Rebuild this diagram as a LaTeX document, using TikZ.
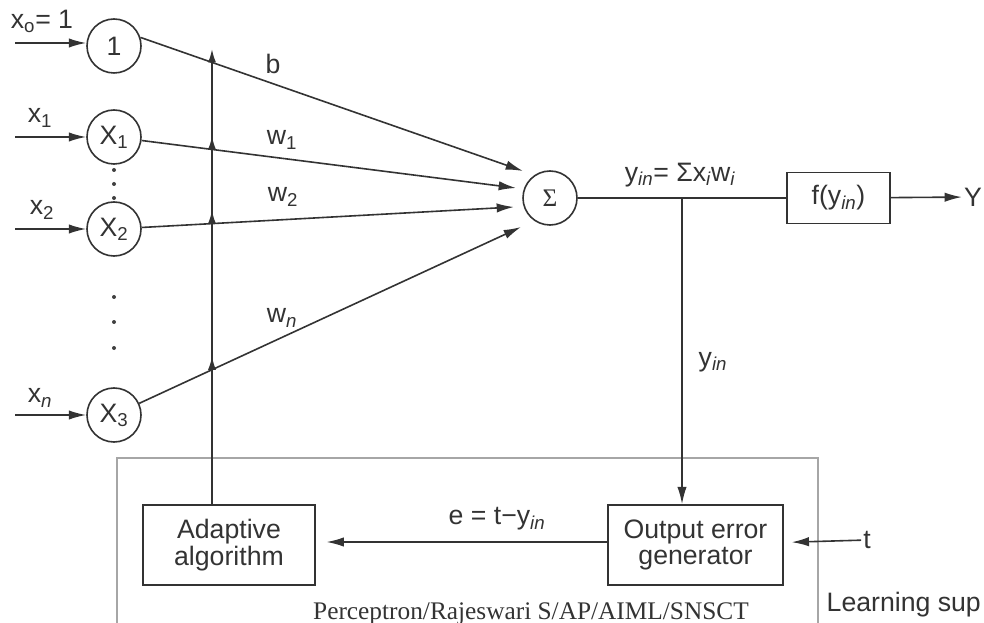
\documentclass[tikz,border=0pt]{standalone}
\usepackage{fontspec}
\setmainfont{Liberation Sans}
\newfontfamily\timesfont{Liberation Serif}
\usetikzlibrary{arrows.meta}
\begin{document}
\begin{tikzpicture}[x=0.75pt,y=-0.75pt,
  line width=1.2pt,
  color=black!80,
  arr/.style={-{Latex[length=13pt,width=7pt]}},
  uparr/.style={-{Latex[length=10pt,width=6pt]}, shorten >=-10pt},
  neuron/.style={circle,draw,minimum size=40.5pt,inner sep=0pt,font=\fontsize{20}{22}\selectfont},
  blk/.style={draw,rectangle,align=center,font=\fontsize{20}{20}\selectfont},
  lbl/.style={font=\fontsize{20}{22}\selectfont, inner sep=1pt},
  dot/.style={fill=black!75, draw=none}]
\useasboundingbox (0,0) rectangle (984,623);
\clip (0,0) rectangle (984,623);

% learning frame
\draw[black!35, line width=1pt] (117,458) rectangle (818,640);

% input neurons
\node[neuron] (n0) at (114,46) {1};
\node[neuron] (n1) at (114,137) {X\textsubscript{1}};
\node[neuron] (n2) at (114,229) {X\textsubscript{2}};
\node[neuron] (n3) at (114,415) {X\textsubscript{3}};
\node[neuron, font=\timesfont\fontsize{19}{20}\selectfont] (sig) at (550,198) {Σ};

% inputs
\coordinate (i0) at (15,43);
\coordinate (i1) at (15,137);
\coordinate (i2) at (15,229);
\coordinate (i3) at (15,415);
\draw[arr] (i0) -- (i0 -| n0.west);
\draw[arr] (i1) -- (n1);
\draw[arr] (i2) -- (n2);
\draw[arr] (i3) -- (n3);
\node[lbl] (lx0) at (42,21) {x\textsubscript{o}= 1};
\node[lbl] (lx1) at (40,118) {x\textsubscript{1}};
\node[lbl] (lx2) at (42,210) {x\textsubscript{2}};
\node[lbl] (lxn) at (40,398) {x\textsubscript{\itshape n}};

% dots
\fill[dot] (114,170) circle (1.5pt);
\fill[dot] (114,184) circle (1.5pt);
\fill[dot] (114,198) circle (1.5pt);
\fill[dot] (114,297) circle (1.5pt);
\fill[dot] (114,322) circle (1.5pt);
\fill[dot] (114,348) circle (1.5pt);

% weighted connections
\coordinate (sb) at (n0.18);
\coordinate (tb) at (523,171);
\coordinate (t1) at (516,188);
\coordinate (t2) at (514,207);
\coordinate (tn) at (521,227);
\draw[arr] (sb) -- (tb);
\draw[arr] (n1) -- (t1);
\draw[arr] (n2) -- (t2);
\draw[arr] (n3) -- (tn);
\node[lbl] (lb) at (273,64) {b};
\node[lbl] (lw1) at (282,140) {w\textsubscript{1}};
\node[lbl] (lw2) at (283,197) {w\textsubscript{2}};
\node[lbl] (lwn) at (282,318) {w\textsubscript{\itshape n}};

% blocks
\node[blk, minimum width=77pt, minimum height=38pt] (f) at (838.5,198) {f(y\textsubscript{\itshape in})};
\node[blk, minimum width=129pt, minimum height=60pt] (ada) at (229,545) {Adaptive\\algorithm};
\node[blk, minimum width=131pt, minimum height=60pt] (oeg) at (695.5,545) {Output error\\generator};

% vertical adaptation line
\coordinate (vtop) at (212,42);
\coordinate (vb) at (ada.north -| vtop);
\coordinate (cb) at (intersection of sb--tb and vtop--vb);
\coordinate (c1) at (intersection of n1.center--t1 and vtop--vb);
\coordinate (c2) at (intersection of n2.center--t2 and vtop--vb);
\coordinate (cn) at (intersection of n3.center--tn and vtop--vb);
\draw[uparr] (vb) -- (cn);
\draw[uparr] (cn) -- (c2);
\draw[uparr] (c2) -- (c1);
\draw[uparr] (c1) -- (cb);

% output path
\draw (sig) -- (f);
\node[lbl] (Y) at (973,197) {Y};
\draw[arr] (f) -- (Y);
\node[lbl] (lyin) at (680,175) {y\textsubscript{\itshape in}= Σx\textsubscript{\itshape i}w\textsubscript{\itshape i}};
\coordinate (br) at (682,198);
\draw[arr] (br) -- (br |- oeg.north);
\node[lbl] (lyin2) at (713,362) {y\textsubscript{\itshape in}};

% error path
\draw[arr, shorten >=8pt] (oeg.west |- 0,542) -- (ada.east |- 0,542);
\node[lbl] (le) at (497,519) {e = t−y\textsubscript{\itshape in}};
\node[lbl] (t) at (867,540) {t};
\draw[arr, shorten >=6pt] (t) -- (oeg);

\node[lbl, anchor=east] (learn) at (983,605) {Learning sup};
\node[font=\timesfont\fontsize{19}{20}\selectfont, anchor=base, inner sep=0pt] (cap) at (531,619) {Perceptron/Rajeswari S/AP/AIML/SNSCT};
\end{tikzpicture}
\end{document}
